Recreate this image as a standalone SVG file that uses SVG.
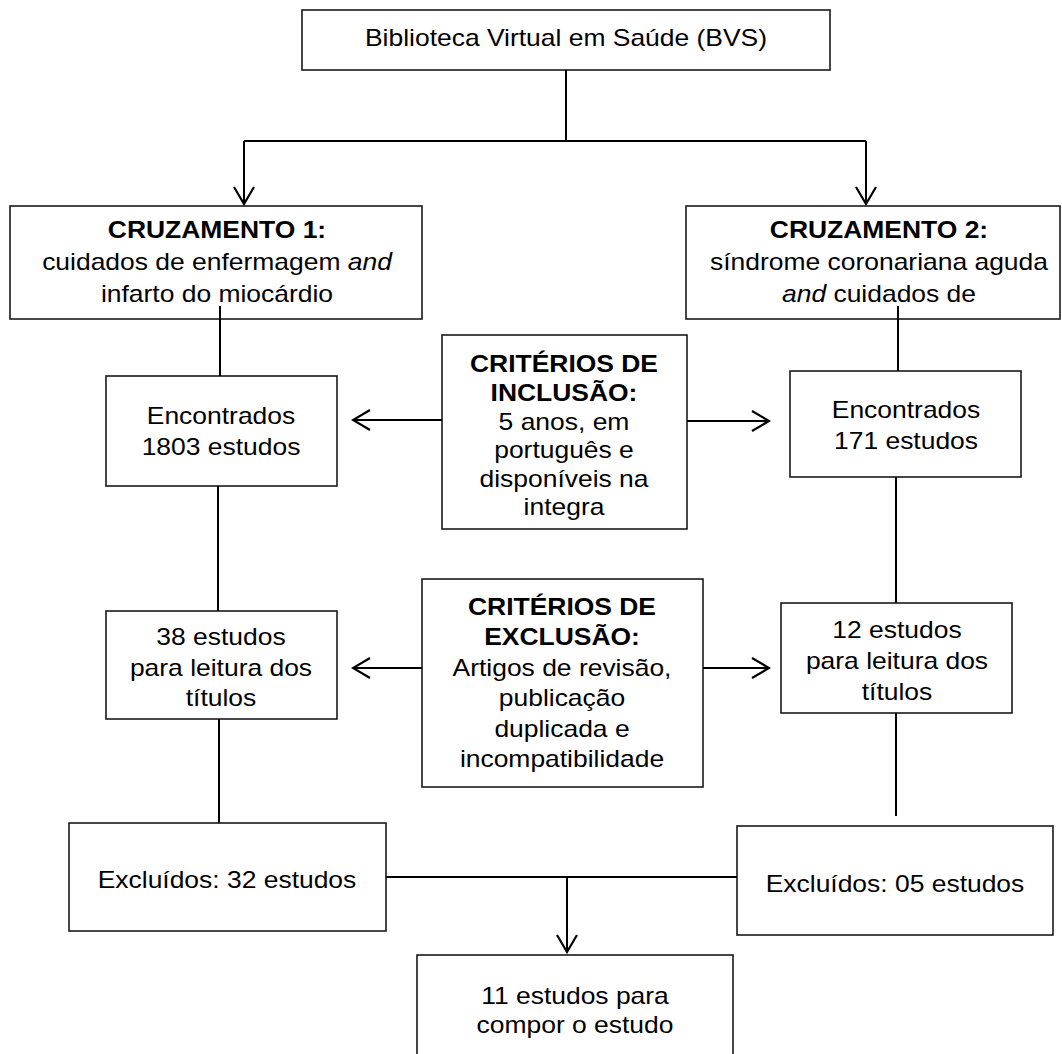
<svg xmlns="http://www.w3.org/2000/svg" width="1062" height="1054" viewBox="0 0 1062 1054">
<style>
.box{fill:#fff;stroke:#1a1a1a;stroke-width:1.6}
.ln{fill:none;stroke:#000;stroke-width:2}
.t{font-family:"Liberation Sans",Arial,sans-serif;font-size:23px;fill:#000;text-anchor:middle}
.b{font-weight:bold}
.i{font-style:italic}
</style>
<defs>
<marker id="ah" viewBox="0 0 20 24" refX="18" refY="12" markerWidth="20" markerHeight="24" markerUnits="userSpaceOnUse" orient="auto">
<path d="M1,2 L18,12 L1,22" fill="none" stroke="#000" stroke-width="2.2"/>
</marker>
<clipPath id="clipInc"><rect x="442" y="335" width="245" height="189"/></clipPath>
</defs>
<rect width="1062" height="1054" fill="#fff"/>

<g id="n-bvs">
<rect class="box" x="302" y="10" width="528" height="60"/>
<g transform="translate(566,0) scale(1.15,1)"><text class="t" x="0" y="46">Biblioteca Virtual em Saúde (BVS)</text></g>
</g>

<g id="n-cruz1">
<rect class="box" x="10" y="206" width="412" height="113"/>
<g transform="translate(217,0) scale(1.15,1)">
<text class="t b" x="0" y="238">CRUZAMENTO 1:</text>
<text class="t" x="0" y="270">cuidados de enfermagem <tspan class="i">and</tspan></text>
<text class="t" x="0" y="302">infarto do miocárdio</text>
</g>
</g>

<g id="n-cruz2">
<rect class="box" x="686" y="206" width="374" height="113"/>
<g transform="translate(879,0) scale(1.15,1)">
<text class="t b" x="0" y="238">CRUZAMENTO 2:</text>
<text class="t" x="0" y="270">síndrome coronariana aguda</text>
<text class="t" x="0" y="302"><tspan class="i">and</tspan> cuidados de</text>
</g>
</g>

<g id="n-enc1">
<rect class="box" x="106" y="376" width="231" height="110"/>
<g transform="translate(221,0) scale(1.15,1)">
<text class="t" x="0" y="424">Encontrados</text>
<text class="t" x="0" y="455">1803 estudos</text>
</g>
</g>

<g id="n-inclusao">
<rect class="box" x="442" y="335" width="245" height="194"/>
<g clip-path="url(#clipInc)">
<g transform="translate(564,0) scale(1.15,1)">
<text class="t b" x="0" y="372">CRITÉRIOS DE</text>
<text class="t b" x="0" y="401">INCLUSÃO:</text>
<text class="t" x="0" y="430">5 anos, em</text>
<text class="t" x="0" y="458">português e</text>
<text class="t" x="0" y="487">disponíveis na</text>
<text class="t" x="0" y="515">integra</text>
</g>
</g>
</g>

<g id="n-enc2">
<rect class="box" x="790" y="371" width="231" height="106"/>
<g transform="translate(906,0) scale(1.15,1)">
<text class="t" x="0" y="418">Encontrados</text>
<text class="t" x="0" y="449">171 estudos</text>
</g>
</g>

<g id="n-38">
<rect class="box" x="106" y="611" width="231" height="108"/>
<g transform="translate(221,0) scale(1.15,1)">
<text class="t" x="0" y="645">38 estudos</text>
<text class="t" x="0" y="676">para leitura dos</text>
<text class="t" x="0" y="706">títulos</text>
</g>
</g>

<g id="n-exclusao">
<rect class="box" x="422" y="579" width="281" height="208"/>
<g transform="translate(562,0) scale(1.15,1)">
<text class="t b" x="0" y="615">CRITÉRIOS DE</text>
<text class="t b" x="0" y="645">EXCLUSÃO:</text>
<text class="t" x="0" y="676">Artigos de revisão,</text>
<text class="t" x="0" y="706">publicação</text>
<text class="t" x="0" y="737">duplicada e</text>
<text class="t" x="0" y="767">incompatibilidade</text>
</g>
</g>

<g id="n-12">
<rect class="box" x="781" y="603" width="231" height="110"/>
<g transform="translate(897,0) scale(1.15,1)">
<text class="t" x="0" y="638">12 estudos</text>
<text class="t" x="0" y="669">para leitura dos</text>
<text class="t" x="0" y="700">títulos</text>
</g>
</g>

<g id="n-excl32">
<rect class="box" x="69" y="823" width="317" height="108"/>
<g transform="translate(227,0) scale(1.15,1)"><text class="t" x="0" y="888">Excluídos: 32 estudos</text></g>
</g>

<g id="n-excl05">
<rect class="box" x="737" y="826" width="316" height="109"/>
<g transform="translate(895,0) scale(1.15,1)"><text class="t" x="0" y="892">Excluídos: 05 estudos</text></g>
</g>

<g id="n-final">
<rect class="box" x="417" y="955" width="316" height="110"/>
<g transform="translate(575,0) scale(1.15,1)">
<text class="t" x="0" y="1004">11 estudos para</text>
<text class="t" x="0" y="1033">compor o estudo</text>
</g>
</g>

<g id="connectors">
<polyline class="ln" points="566,70 566,141"/>
<polyline class="ln" points="244,141 866,141"/>
<line class="ln" x1="244" y1="141" x2="244" y2="204" marker-end="url(#ah)"/>
<line class="ln" x1="866" y1="141" x2="866" y2="204" marker-end="url(#ah)"/>
<line class="ln" x1="220" y1="306" x2="220" y2="376" stroke-width="1.6"/>
<line class="ln" x1="898" y1="306" x2="898" y2="371" stroke-width="1.6"/>
<line class="ln" x1="442" y1="420" x2="353" y2="420" marker-end="url(#ah)"/>
<line class="ln" x1="687" y1="421" x2="769" y2="421" marker-end="url(#ah)"/>
<line class="ln" x1="218" y1="486" x2="218" y2="611" stroke-width="1.6"/>
<line class="ln" x1="896" y1="477" x2="896" y2="603" stroke-width="1.6"/>
<line class="ln" x1="422" y1="668" x2="353" y2="668" marker-end="url(#ah)"/>
<line class="ln" x1="703" y1="668" x2="769" y2="668" marker-end="url(#ah)"/>
<line class="ln" x1="219" y1="719" x2="219" y2="823" stroke-width="1.6"/>
<line class="ln" x1="896" y1="713" x2="896" y2="816" stroke-width="1.6"/>
<line class="ln" x1="386" y1="877" x2="737" y2="877"/>
<line class="ln" x1="567" y1="877" x2="567" y2="952" marker-end="url(#ah)"/>
</g>
</svg>
